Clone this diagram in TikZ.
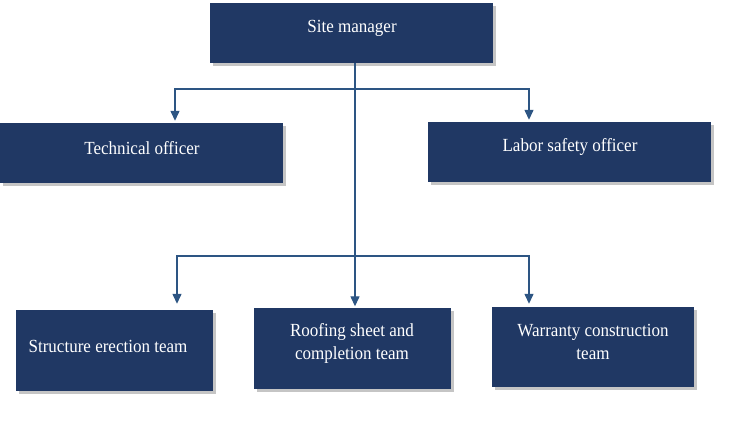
\documentclass[tikz,border=0pt]{standalone}
\usepackage{fontspec}
\setmainfont{Liberation Serif}
\newfontfamily\lblfont[FakeStretch=0.92]{Liberation Serif}
\usetikzlibrary{arrows.meta,shadows}
\definecolor{boxblue}{HTML}{203864}
\definecolor{linkblue}{HTML}{2D5583}
\tikzset{
  box/.style={draw=none, fill=boxblue, rectangle, inner sep=0pt,
    drop shadow={shadow xshift=2.5pt, shadow yshift=-2.5pt, fill=black!45, opacity=0.5}},
  lbl/.style={text=white, font=\lblfont\fontsize{18.5}{23}\selectfont, align=center, inner sep=0pt},
  link/.style={draw=linkblue, line width=1.3pt, -{Triangle[length=10pt,width=9pt]}},
  trunk/.style={draw=linkblue, line width=1.3pt}
}
\begin{document}
\begin{tikzpicture}[x=1pt,y=-1pt]
\useasboundingbox (0,0) rectangle (753,439);
% boxes
\node[box, minimum width=283pt, minimum height=60pt] (sm) at (351.5,33) {};
\node[box, minimum width=283pt, minimum height=60pt] (to) at (141.5,153) {};
\node[box, minimum width=283pt, minimum height=60pt] (lso) at (569.5,152) {};
\node[box, minimum width=197pt, minimum height=81pt] (set) at (114.5,350.5) {};
\node[box, minimum width=197pt, minimum height=81pt] (rsc) at (352.5,348.5) {};
\node[box, minimum width=202pt, minimum height=80pt] (wct) at (593,347) {};
% labels
\node[lbl] (smt) at (352,28) {Site manager};
\node[lbl] (tot) at (142,148) {Technical officer};
\node[lbl] (lsot) at (570,147) {Labor safety officer};
\node[lbl] (sett) at (108,346) {Structure erection team};
\node[lbl] (rsct) at (352,343.5) {Roofing sheet and\\completion team};
\node[lbl] (wctt) at (593,342) {Warranty construction\\team};
% junction coordinates
\coordinate (j1) at (355,89);
\coordinate (j2) at (355,256);
% connectors
\draw[trunk] (sm.south -| j1) -- (j2);
\draw[link] (j1) -| ([xshift=(175-141.5)*1pt, yshift=2pt]to.north);
\draw[link] (j1) -| ([xshift=(529-569.5)*1pt, yshift=2pt]lso.north);
\draw[link] (j2) -| ([xshift=(177-114.5)*1pt, yshift=6pt]set.north);
\draw[link] (j2) -- ([yshift=1.5pt]rsc.north -| j2);
\draw[link] (j2) -| ([xshift=(529-593)*1pt, yshift=3pt]wct.north);
\end{tikzpicture}
\end{document}
